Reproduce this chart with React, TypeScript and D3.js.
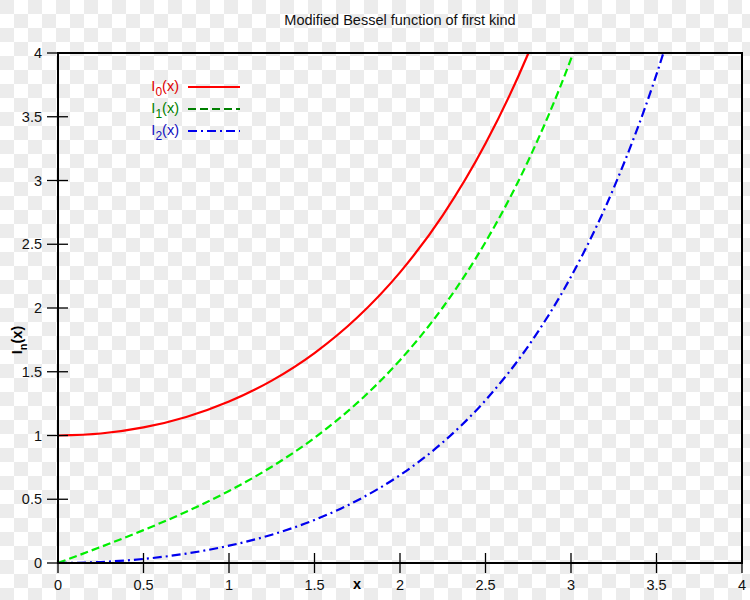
import React from "react";
import * as d3 from "d3";

const xs = [0, 0.25, 0.5, 0.75, 1, 1.25, 1.5, 1.75, 2, 2.25, 2.5, 2.75, 3, 3.25, 3.5, 3.75];
const i0 = [1, 1.015686, 1.063483, 1.145646, 1.266066, 1.430468, 1.646723, 1.925252, 2.279585, 2.727079, 3.289839, 3.995913, 4.880793, 5.989336, 7.3782, 9.118945];
const i1 = [0, 0.125979, 0.257894, 0.401992, 0.565159, 0.755281, 0.981666, 1.255537, 1.590637, 2.003966, 2.516716, 3.155406, 3.95337, 4.952546, 6.20583, 7.780016];
const i2 = [0, 0.007854, 0.031906, 0.073667, 0.135748, 0.222018, 0.337835, 0.490353, 0.688948, 0.945776, 1.276466, 1.701072, 2.245212, 2.941615, 3.83201, 4.969603];
const xTicks = [0, 0.5, 1, 1.5, 2, 2.5, 3, 3.5, 4];
const yTicks = [0, 0.5, 1, 1.5, 2, 2.5, 3, 3.5, 4];

const seriesList = [
  { sub: "0", values: i0, color: "#ff0000", legendColor: "#ff0000", textColor: "#e00000", dash: "" },
  { sub: "1", values: i1, color: "#00ee00", legendColor: "#008000", textColor: "#008000", dash: "8,4" },
  { sub: "2", values: i2, color: "#0000ee", legendColor: "#0000ee", textColor: "#1010c0", dash: "9,4,2,4" },
];

const W = 750, H = 600;
const L = 58, R = 742, T = 53, B = 563;
const FONT = "'Liberation Sans', Arial, sans-serif";
const FS = 14.5;

export default function App() {
  const x = d3.scaleLinear().domain([0, 4]).range([L, R]);
  const y = d3.scaleLinear().domain([0, 4]).range([B, T]);
  const line = d3
    .line<number>()
    .x((_, i) => x(xs[i]))
    .y((d) => y(d))
    .curve(d3.curveMonotoneX);

  return (
    <svg width={W} height={H} style={{ position: "absolute", left: 0, top: 0, background: "#fff" }} fontFamily={FONT}>
      <defs>
        <pattern id="chk" width={28} height={28} patternUnits="userSpaceOnUse">
          <rect width={28} height={28} fill="#ffffff" />
          <rect x={0} y={0} width={14} height={14} fill="#ececec" />
          <rect x={14} y={14} width={14} height={14} fill="#ececec" />
        </pattern>
        <clipPath id="plot">
          <rect x={L} y={T} width={R - L} height={B - T} />
        </clipPath>
      </defs>
      <rect width={W} height={H} fill="url(#chk)" />
      <text x={400} y={25} textAnchor="middle" fontSize={FS} fill="#111">
        Modified Bessel function of first kind
      </text>

      <g clipPath="url(#plot)">
        {seriesList.map((s) => (
          <path
            key={s.sub}
            d={line(s.values) || ""}
            fill="none"
            stroke={s.color}
            strokeWidth={2.2}
            strokeDasharray={s.dash || undefined}
          />
        ))}
      </g>

      <rect x={L} y={T} width={R - L} height={B - T} fill="none" stroke="#000" strokeWidth={2} />

      {xTicks.map((t) => (
        <g key={"x" + t}>
          <line x1={x(t)} x2={x(t)} y1={B - 10} y2={B + 10} stroke="#000" strokeWidth={1.3} />
          <text x={x(t)} y={590} textAnchor="middle" fontSize={FS} fill="#111">
            {String(t)}
          </text>
        </g>
      ))}
      {yTicks.map((t) => (
        <g key={"y" + t}>
          <line x1={L - 11} x2={L + 10} y1={y(t)} y2={y(t)} stroke="#000" strokeWidth={1.3} />
          <text x={42} y={y(t) + 5} textAnchor="end" fontSize={FS} fill="#111">
            {String(t)}
          </text>
        </g>
      ))}

      <text x={357} y={589} textAnchor="middle" fontSize={FS} fontWeight="bold" fill="#000">
        x
      </text>
      <text transform="translate(22,340) rotate(-90)" textAnchor="middle" fontSize={FS} fontWeight="bold" fill="#000">
        I<tspan fontSize={11} dy={5}>n</tspan>
        <tspan dy={-5}>(x)</tspan>
      </text>

      {seriesList.map((s, i) => {
        const ly = 87 + i * 22;
        return (
          <g key={"lg" + s.sub}>
            <text x={179} y={ly + 4} textAnchor="end" fontSize={FS} fill={s.textColor}>
              I<tspan fontSize={12} dy={5}>{s.sub}</tspan>
              <tspan dy={-5}>(x)</tspan>
            </text>
            <line x1={188} x2={240} y1={ly} y2={ly} stroke={s.legendColor} strokeWidth={2.2} strokeDasharray={s.dash || undefined} />
          </g>
        );
      })}
    </svg>
  );
}
